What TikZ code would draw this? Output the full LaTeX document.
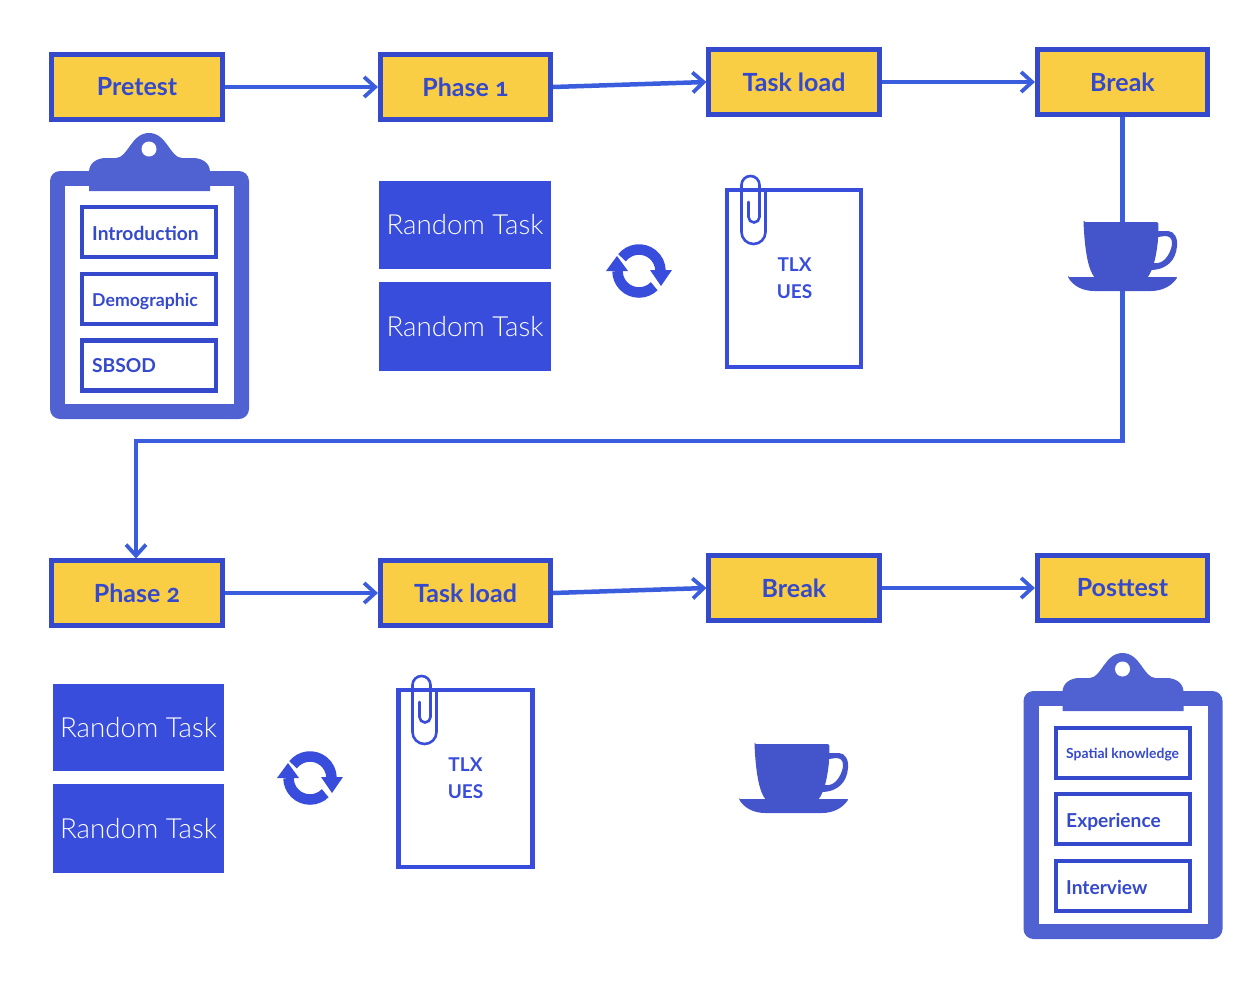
\documentclass[tikz,border=0pt]{standalone}
\usepackage{fontspec}
\setmainfont[Numbers=OldStyle]{Lato}
\newfontfamily\lightface{Lato Light}
\usetikzlibrary{arrows.meta,positioning}
\definecolor{bordblue}{HTML}{3549CC}
\definecolor{flowblue}{HTML}{3A5DDE}
\definecolor{fillblue}{HTML}{384DDB}
\definecolor{clipblue}{HTML}{5062D2}
\definecolor{cupblue}{HTML}{4455CC}
\definecolor{stepyellow}{HTML}{F9CE44}
\tikzset{
  stagebox/.style={draw=bordblue,line width=4.6pt,fill=stepyellow,minimum width=170.5pt,minimum height=64.5pt,inner sep=0pt,
    text=bordblue,font=\fontsize{25}{28}\selectfont\bfseries},
  itembox/.style={draw=bordblue,line width=4.6pt,fill=white,minimum width=134pt,minimum height=50pt,inner sep=0pt},
  itemtext/.style={text=bordblue,font=\fontsize{19.2}{22}\selectfont\bfseries,anchor=west,inner sep=0pt},
  randbox/.style={fill=fillblue,minimum width=172pt,inner sep=0pt,text=white,font=\fontsize{27.7}{30}\selectfont\lightface},
  paperbox/.style={draw=fillblue,line width=4.4pt,fill=white,minimum width=134pt,minimum height=177pt,inner sep=0pt},
  papertext/.style={text=fillblue,font=\fontsize{19}{27}\selectfont\bfseries,align=center,inner sep=0pt},
  flow/.style={draw=flowblue,line width=4.5pt,-{Straight Barb[length=11pt,width=20pt,line width=3.8pt]}},
  clipboard/.pic={
    \fill[clipblue,rounded corners=10pt] (50,171) rectangle (249,419);
    \fill[white] (65,186) rectangle (234,404);
    \fill[clipblue] (89,191) -- (89,172) .. controls (89,163) and (97,158) .. (106,158) -- (116,158)
      .. controls (128,158) and (131,133) .. (149,133) .. controls (167,133) and (170,158) .. (182,158)
      -- (193,158) .. controls (202,158) and (210,163) .. (210,172) -- (210,191) -- cycle;
    \fill[white] (149,149) circle[radius=7.5pt];
  },
  teacup/.pic={
    \fill[cupblue] (1158,231) -- (1168,231) .. controls (1174,231) and (1178,238) .. (1177,246)
      .. controls (1176,260) and (1167,270) .. (1150,270) -- (1150,263) -- (1158,263)
      .. controls (1166,262) and (1172,250) .. (1172,243) .. controls (1172,238) and (1169,236) .. (1165,236) -- (1158,237) -- cycle;
    \fill[cupblue,rounded corners=1.5pt] (1083.5,222) -- (1158.5,222) -- (1158,240) .. controls (1156,258) and (1153,270) .. (1147,278)
      -- (1095,278) .. controls (1089,270) and (1085,255) .. (1083.5,222) -- cycle;
    \fill[cupblue,rounded corners=1pt] (1068,277) -- (1177.5,277) .. controls (1172,286) and (1162,291) .. (1150,291)
      -- (1095,291) .. controls (1083,291) and (1073,286) .. (1068,277) -- cycle;
  },
  recycle/.pic={
    \draw[fillblue,line width=10.5pt] (639,271) ++(-142:21.5pt) arc[start angle=-142,end angle=0,radius=21.5pt];
    \draw[fillblue,line width=10.5pt] (639,271) ++(45:21.5pt) arc[start angle=45,end angle=180,radius=21.5pt];
    \fill[fillblue] (650,270) -- (672,270) -- (661,286) -- cycle;
    \fill[fillblue] (606,271) -- (628,271) -- (617,256) -- cycle;
  },
  paperclip/.pic={
    \draw[fillblue,line width=2.6pt,line cap=round] (765.5,192) -- (765.5,232) arc[start angle=0,end angle=180,radius=12pt]
      -- (741.5,185) arc[start angle=180,end angle=360,radius=9pt] -- (759.5,217)
      arc[start angle=0,end angle=180,radius=5.5pt] -- (748.5,202);
  }
}
\begin{document}
\begin{tikzpicture}[x=1pt,y=1pt,yscale=-1]
\useasboundingbox (0,0) rectangle (1256,986);
% stages
\node[stagebox] (pretest) at (137,87) {Pretest};
\node[stagebox] (phaseone) at (465.5,87) {Phase 1};
\node[stagebox] (loadone) at (794,82) {Task load};
\node[stagebox] (breakone) at (1122.5,82) {Break};
\node[stagebox] (phasetwo) at (137,593) {Phase 2};
\node[stagebox] (loadtwo) at (465.5,593) {Task load};
\node[stagebox] (breaktwo) at (794,588) {Break};
\node[stagebox] (posttest) at (1122.5,588) {Posttest};
% connectors
\draw[flow] (pretest) -- (phaseone);
\draw[flow] (phaseone.east) -- (loadone.west);
\draw[flow] (loadone) -- (breakone);
\coordinate (turnright) at (1122.5,441);
\coordinate (turnleft) at (136,441);
\draw[flow] (breakone.south) -- (turnright) -- (turnleft) -- (turnleft |- phasetwo.north);
\draw[flow] (phasetwo) -- (loadtwo);
\draw[flow] (loadtwo.east) -- (breaktwo.west);
\draw[flow] (breaktwo) -- (posttest);
% clipboards
\pic[yscale=-1] at (0,0) {clipboard};
\pic[yscale=-1] at (973.5,520) {clipboard};
\node[itembox] (intro) at (149,232) {};
\node[itembox] (demo) at (149,299) {};
\node[itembox] (sbsod) at (149,365.5) {};
\node[itemtext] (introt) at (92,233) {Introduction};
\node[itemtext,font=\fontsize{17.7}{20}\selectfont\bfseries] (demot) at (92,301.5) {Demographic};
\node[itemtext] (sbsodt) at (92,366) {SBSOD};
\node[itembox] (spatial) at (1123,753) {};
\node[itembox] (exper) at (1123,819) {};
\node[itembox] (interv) at (1123,886) {};
\node[itemtext,font=\fontsize{13.9}{17}\selectfont\bfseries] (spatialt) at (1066,754.5) {Spatial knowledge};
\node[itemtext] (expert) at (1066,821.5) {Experience};
\node[itemtext] (intervt) at (1066,887) {Interview};
% random tasks
\node[randbox,minimum height=88pt] (randa) at (465,225) {Random Task};
\node[randbox,minimum height=89pt] (randb) at (465,326.5) {Random Task};
\node[randbox,minimum height=87pt,minimum width=171pt] (randc) at (138.5,727.5) {Random Task};
\node[randbox,minimum height=89pt,minimum width=171pt] (randd) at (138.5,828.5) {Random Task};
% cycles
\pic[yscale=-1] at (0,0) {recycle};
\pic[yscale=-1] at (-329,507) {recycle};
% papers
\node[paperbox] (papera) at (794,278.5) {};
\node[paperbox] (paperb) at (465.5,778.5) {};
\node[papertext] (papertexta) at (794.5,278) {TLX\\UES};
\node[papertext] (papertextb) at (465.5,778) {TLX\\UES};
\pic[yscale=-1] at (0,0) {paperclip};
\pic[yscale=-1] at (-329,500) {paperclip};
% cups
\pic[yscale=-1] at (0,0) {teacup};
\pic[yscale=-1] at (-329,522) {teacup};
\end{tikzpicture}
\end{document}
